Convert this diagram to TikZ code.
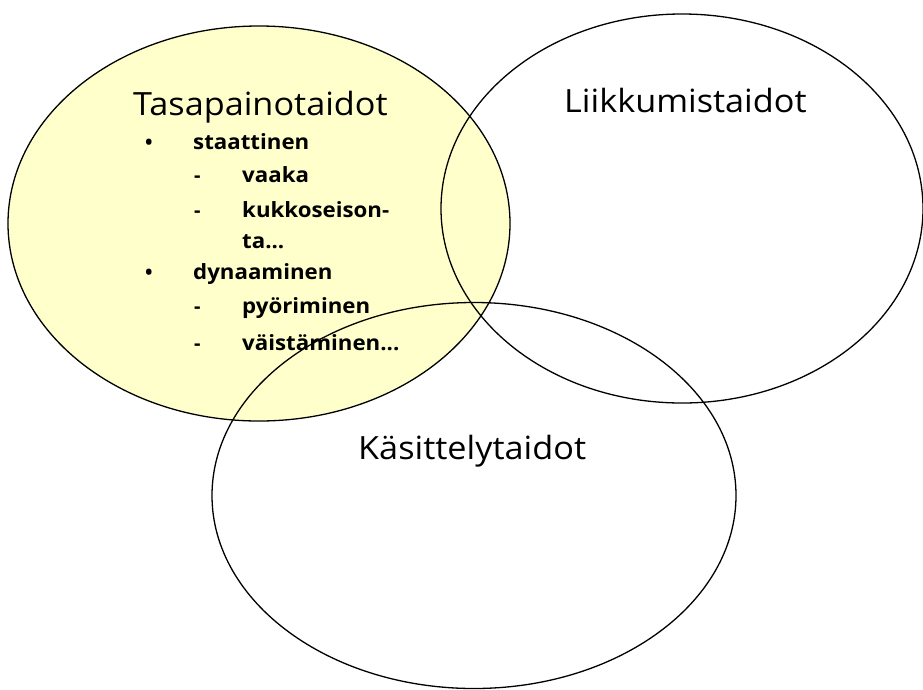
\documentclass[tikz,border=0pt]{standalone}
\usepackage{fontspec}
\setmainfont{Open Sans}
\newfontfamily\titlefont[FakeStretch=1.07]{Open Sans}
\newfontfamily\itemfont[FakeStretch=1.06]{Open Sans}
\usetikzlibrary{shapes.geometric}
\definecolor{paleyellow}{RGB}{255,255,204}
\tikzset{
  set/.style={ellipse, draw=black, line width=1.3pt, inner sep=0pt},
  title/.style={anchor=base west, inner sep=0pt, font=\titlefont\fontsize{32}{32}\selectfont},
  item/.style={anchor=base west, inner sep=0pt, font=\itemfont\fontsize{21}{21}\selectfont\bfseries},
  bulletmark/.style={anchor=base west, inner sep=0pt, font=\fontsize{20}{20}\selectfont\bfseries}
}
\begin{document}
\begin{tikzpicture}[x=1pt,y=-1pt]
\useasboundingbox (0,0) rectangle (923,689);
\node[set, fill=paleyellow, minimum width=502pt, minimum height=395pt] (tasa) at (259,223.5) {};
\node[set, minimum width=482pt, minimum height=389pt] (liik) at (682,208.5) {};
\node[set, minimum width=524pt, minimum height=386pt] (kasi) at (474,495.5) {};

\node[title] (t1) at (133,115) {Tasapainotaidot};
\node[title] (t2) at (564,112) {Liikkumistaidot};
\node[title] (t3) at (358,459) {Käsittelytaidot};

\node[bulletmark] (b1) at (145,149) {•};
\node[item] (i1) at (193,149) {staattinen};
\node[bulletmark] (d1) at (194,182) {-};
\node[item] (i2) at (242,182) {vaaka};
\node[bulletmark] (d2) at (194,217) {-};
\node[item] (i3) at (242,217) {kukkoseison-};
\node[item] (i4) at (242,248) {ta...};
\node[bulletmark] (b2) at (145,279) {•};
\node[item] (i5) at (193,279) {dynaaminen};
\node[bulletmark] (d3) at (194,313) {-};
\node[item] (i6) at (242,313) {pyöriminen};
\node[bulletmark] (d4) at (194,350) {-};
\node[item] (i7) at (242,350) {väistäminen...};
\end{tikzpicture}
\end{document}
